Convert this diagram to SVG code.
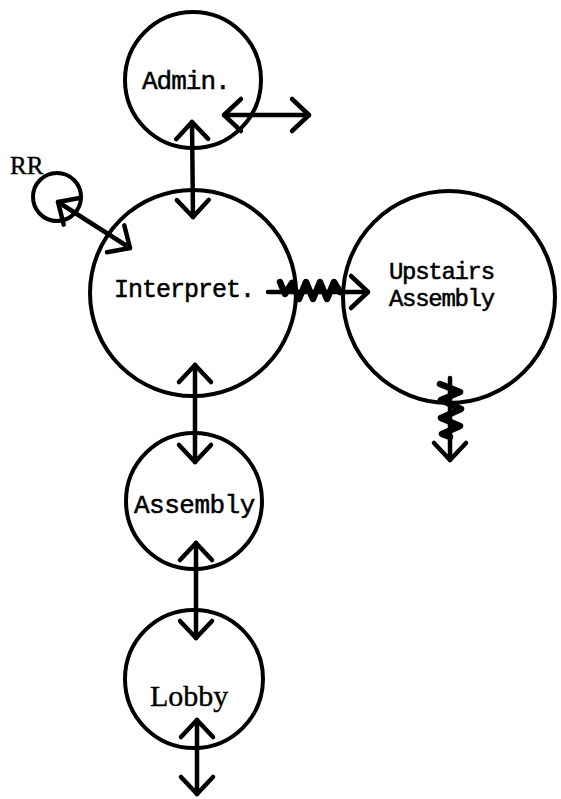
<svg xmlns="http://www.w3.org/2000/svg" width="561" height="799" viewBox="0 0 561 799">
  <style>
    .node circle { fill: none; stroke: #000; stroke-width: 4; }
    .mono { font-family: "Liberation Mono", "DejaVu Sans Mono", monospace; fill: #000; stroke: #000; stroke-width: 0.5; }
    .serif { font-family: "Liberation Serif", "DejaVu Serif", serif; fill: #000; stroke: #000; stroke-width: 0.4; }
    .link { fill: none; stroke: #000; stroke-width: 4.5; stroke-linecap: round; stroke-linejoin: round; }
    .zig { stroke-width: 6.5; }
  </style>
  <defs>
    <marker id="head" markerUnits="userSpaceOnUse" markerWidth="40" markerHeight="40" viewBox="-22 -20 26 40" refX="0" refY="0" orient="auto-start-reverse">
      <path d="M -17 -16 L 0 0 L -17 16" fill="none" stroke="#000" stroke-width="4.5" stroke-linecap="round" stroke-linejoin="round"/>
    </marker>
  </defs>
  <rect width="561" height="799" fill="#fff"/>

  <g id="admin" class="node">
    <circle cx="193" cy="80" r="68"/>
    <text class="mono" x="142" y="89" font-size="26" letter-spacing="-1">Admin.</text>
  </g>
  <g id="rr" class="node">
    <circle cx="57" cy="197" r="24"/>
    <text class="serif" x="10" y="174" font-size="25">RR</text>
  </g>
  <g id="interpret" class="node">
    <circle cx="193" cy="293" r="103"/>
    <text class="mono" x="114" y="297" font-size="25" letter-spacing="-1">Interpret.</text>
  </g>
  <g id="upstairs" class="node">
    <circle cx="449" cy="297" r="106"/>
    <text class="mono" x="389" y="279" font-size="24" letter-spacing="-1.3">Upstairs</text>
    <text class="mono" x="389" y="306" font-size="24" letter-spacing="-1.3">Assembly</text>
  </g>
  <g id="assembly" class="node">
    <circle cx="194" cy="501" r="68"/>
    <text class="mono" x="134" y="513" font-size="26" letter-spacing="-0.5">Assembly</text>
  </g>
  <g id="lobby" class="node">
    <circle cx="194" cy="679" r="69"/>
    <text class="serif" x="150" y="706" font-size="30">Lobby</text>
  </g>

  <g id="connectors">
    <!-- two-way links -->
    <line class="link" x1="192" y1="122" x2="193" y2="217" marker-start="url(#head)" marker-end="url(#head)"/>
    <line class="link" x1="224" y1="115" x2="309" y2="115" marker-start="url(#head)" marker-end="url(#head)"/>
    <line class="link" x1="58" y1="202" x2="130" y2="248" marker-start="url(#head)" marker-end="url(#head)"/>
    <line class="link" x1="195" y1="365" x2="195" y2="462" marker-start="url(#head)" marker-end="url(#head)"/>
    <line class="link" x1="196" y1="543" x2="196" y2="638" marker-start="url(#head)" marker-end="url(#head)"/>
    <line class="link" x1="197" y1="720" x2="197" y2="794" marker-start="url(#head)" marker-end="url(#head)"/>
    <!-- one-way zigzag links -->
    <path class="link" d="M268,292 L368,292" marker-end="url(#head)"/>
    <path class="link zig" d="M280,282 L285,294 L292,283 L299,299 L306,282 L313,299 L320,282 L327,299 L334,282 L340,292"/>
    <path class="link" d="M450,378 L450,460" marker-end="url(#head)"/>
    <path class="link zig" d="M440,384 L460,392 L441,400 L461,409 L441,418 L460,426 L442,434 L450,437"/>
  </g>
</svg>
